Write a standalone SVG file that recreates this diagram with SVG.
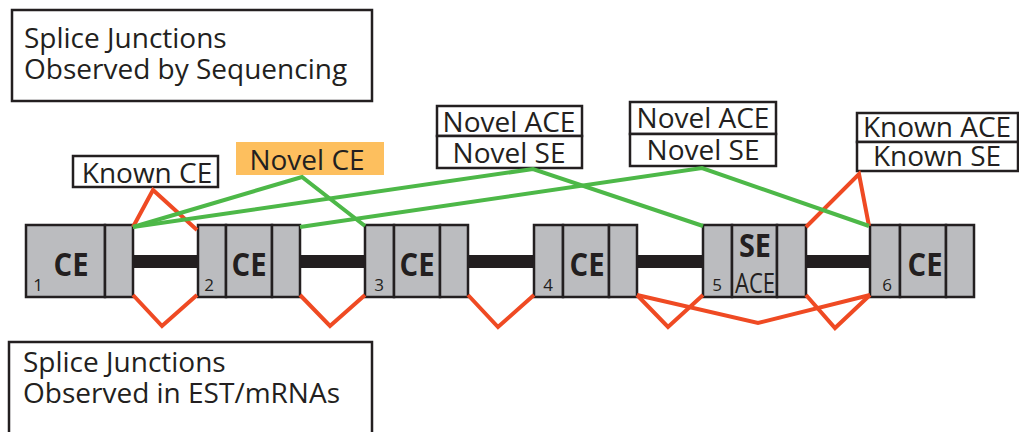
<svg xmlns="http://www.w3.org/2000/svg" width="1019" height="432" viewBox="0 0 1019 432">
  <style>
    .lbl { font-family: "Open Sans", "Liberation Sans", sans-serif; font-size: 28px; fill: #231F20; }
    .mid { text-anchor: middle; }
    .num { font-family: "Open Sans", "Liberation Sans", sans-serif; font-size: 17px; fill: #231F20; text-anchor: middle; }
    .ce { font-family: "Open Sans", "Liberation Sans", sans-serif; font-size: 32px; font-weight: bold; fill: #231F20; text-anchor: middle; }
    .box { fill: #FFFFFF; stroke: #231F20; stroke-width: 2.5; }
    .exon { fill: #BBBCBF; stroke: #231F20; stroke-width: 2.5; }
    .known { fill: none; stroke: #EF4A23; stroke-width: 4; stroke-linejoin: miter; }
    .novel { fill: none; stroke: #4DB848; stroke-width: 4; }
  </style>

  <!-- legend boxes -->
  <g id="legend-sequencing">
    <rect class="box" x="12" y="10" width="360" height="91"/>
    <text class="lbl" x="24" y="48">Splice Junctions</text>
    <text class="lbl" x="24" y="79">Observed by Sequencing</text>
  </g>
  <g id="legend-est">
    <rect class="box" x="9" y="342" width="363" height="100"/>
    <text class="lbl" x="23" y="372">Splice Junctions</text>
    <text class="lbl" x="23" y="403">Observed in EST/mRNAs</text>
  </g>

  <!-- intron backbone -->
  <rect id="intron" x="120" y="255" width="770" height="13" fill="#231F20"/>

  <!-- exons -->
  <g id="exon1">
    <rect class="exon" x="26" y="225" width="79" height="72"/>
    <rect class="exon" x="105" y="225" width="28" height="72"/>
    <text class="ce" x="71" y="276" textLength="35" lengthAdjust="spacingAndGlyphs">CE</text>
    <text class="num" x="38" y="291">1</text>
  </g>
  <g id="exon2">
    <rect class="exon" x="198" y="225" width="28" height="72"/>
    <rect class="exon" x="226" y="225" width="46" height="72"/>
    <rect class="exon" x="272" y="225" width="28" height="72"/>
    <text class="ce" x="249" y="276" textLength="35" lengthAdjust="spacingAndGlyphs">CE</text>
    <text class="num" x="209" y="291">2</text>
  </g>
  <g id="exon3">
    <rect class="exon" x="365" y="225" width="29" height="72"/>
    <rect class="exon" x="394" y="225" width="46" height="72"/>
    <rect class="exon" x="440" y="225" width="28" height="72"/>
    <text class="ce" x="417" y="276" textLength="35" lengthAdjust="spacingAndGlyphs">CE</text>
    <text class="num" x="379" y="291">3</text>
  </g>
  <g id="exon4">
    <rect class="exon" x="534" y="225" width="29" height="72"/>
    <rect class="exon" x="563" y="225" width="46" height="72"/>
    <rect class="exon" x="609" y="225" width="28" height="72"/>
    <text class="ce" x="587" y="276" textLength="35" lengthAdjust="spacingAndGlyphs">CE</text>
    <text class="num" x="548" y="291">4</text>
  </g>
  <g id="exon5">
    <rect class="exon" x="703" y="225" width="29" height="72"/>
    <rect class="exon" x="732" y="225" width="45" height="72"/>
    <rect class="exon" x="777" y="225" width="29" height="72"/>
    <text class="ce" x="755" y="257" textLength="32" lengthAdjust="spacingAndGlyphs">SE</text>
    <text class="lbl mid" x="755" y="293" textLength="40" lengthAdjust="spacingAndGlyphs">ACE</text>
    <text class="num" x="717" y="291">5</text>
  </g>
  <g id="exon6">
    <rect class="exon" x="870" y="225" width="30" height="72"/>
    <rect class="exon" x="900" y="225" width="46" height="72"/>
    <rect class="exon" x="946" y="225" width="28" height="72"/>
    <text class="ce" x="925" y="276" textLength="35" lengthAdjust="spacingAndGlyphs">CE</text>
    <text class="num" x="887" y="291">6</text>
  </g>

  <!-- junction labels -->
  <g id="label-known-ce">
    <rect class="box" x="73" y="156" width="145" height="31"/>
    <text class="lbl mid" x="147" y="183">Known CE</text>
  </g>
  <g id="label-novel-ce">
    <rect x="236" y="142" width="148" height="33" fill="#FDBF5E"/>
    <text class="lbl mid" x="307" y="170">Novel CE</text>
  </g>
  <g id="label-novel-ace-1">
    <rect class="box" x="437" y="106" width="145" height="30"/>
    <rect class="box" x="437" y="136" width="145" height="32"/>
    <text class="lbl mid" x="509" y="132">Novel ACE</text>
    <text class="lbl mid" x="509" y="163">Novel SE</text>
  </g>
  <g id="label-novel-ace-2">
    <rect class="box" x="630" y="102" width="146" height="32"/>
    <rect class="box" x="630" y="134" width="146" height="32"/>
    <text class="lbl mid" x="703" y="128">Novel ACE</text>
    <text class="lbl mid" x="703" y="160">Novel SE</text>
  </g>
  <g id="label-known-ace">
    <rect class="box" x="857" y="113" width="161" height="29"/>
    <rect class="box" x="857" y="142" width="161" height="29"/>
    <text class="lbl mid" x="937" y="137">Known ACE</text>
    <text class="lbl mid" x="937" y="166">Known SE</text>
  </g>

  <!-- splice junction connectors -->
  <g id="connectors">
    <!-- sequencing: known junctions (above) -->
    <polyline class="known" points="133,227 153,190 197,230"/>
    <polyline class="known" points="806,227 859,174 869,226"/>
    <!-- sequencing: novel junctions (above) -->
    <polyline class="novel" points="133,227 302,177 365,226"/>
    <polyline class="novel" points="133,227 533,169 703,226"/>
    <polyline class="novel" points="300,227 702,168 869,226"/>
    <!-- EST/mRNA junctions (below) -->
    <polyline class="known" points="133,295 162,326 197,295"/>
    <polyline class="known" points="300,295 330,326 365,295"/>
    <polyline class="known" points="468,295 498,327 534,295"/>
    <polyline class="known" points="637,295 668,327 703,295"/>
    <polyline class="known" points="637,295 758,323 870,295"/>
    <polyline class="known" points="806,295 835,328 870,295"/>
  </g>
</svg>
